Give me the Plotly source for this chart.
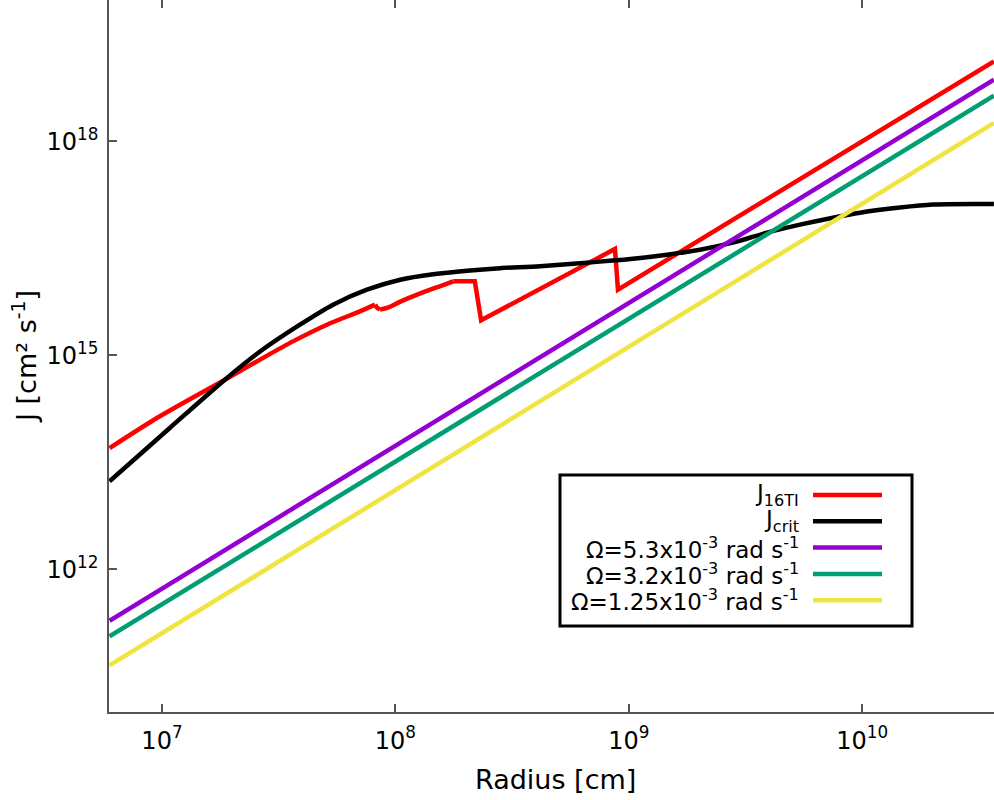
import plotly.graph_objects as go

# ---- data -------------------------------------------------------------
# J_16TI profile (specific angular momentum) vs radius
r_16ti = [5.96e6, 9.79e6, 1.86e7, 2.63e7, 3.64e7, 5.09e7, 7.05e7, 8.18e7,
          8.34e7, 8.59e7, 9.29e7, 1.05e8, 1.24e8, 1.45e8, 1.55e8, 1.77e8,
          2.19e8, 2.33e8, 8.73e8, 8.99e8, 3.67e10]
j_16ti = [5.00e13, 1.40e14, 4.56e14, 8.71e14, 1.57e15, 2.69e15, 4.14e15, 5.14e15,
          4.67e15, 4.38e15, 4.67e15, 5.66e15, 7.10e15, 8.61e15, 9.27e15, 1.09e16,
          1.09e16, 3.10e15, 3.10e16, 8.34e15, 1.32e19]
# index ranges of the J_16TI profile: smooth parts vs. straight/jump parts
seg_16ti = [(0, 8, "spline"), (7, 10, "linear"), (9, 16, "spline"), (15, 21, "linear")]

# critical angular momentum J_crit
r_crit = [5.96e6, 1.08e7, 1.86e7, 2.63e7, 3.90e7, 5.41e7, 7.55e7, 1.05e8,
          1.45e8, 2.03e8, 2.81e8, 4.17e8, 7.53e8, 1.12e9, 1.46e9, 2.02e9,
          2.79e9, 3.91e9, 5.42e9, 7.50e9, 9.79e9, 1.45e10, 2.01e10, 3.67e10]
j_crit = [1.71e13, 9.59e13, 4.56e14, 1.13e15, 2.69e15, 5.14e15, 8.34e15, 1.15e16,
          1.37e16, 1.54e16, 1.67e16, 1.78e16, 2.06e16, 2.32e16, 2.58e16, 3.03e16,
          3.80e16, 5.25e16, 6.79e16, 8.51e16, 1.00e17, 1.18e17, 1.30e17, 1.32e17]

# rigid rotation lines J = Omega r^2 (end points)
r_omega = [5.96e6, 3.67e10]
j_omega_53 = [1.905e11, 7.33e18]
j_omega_32 = [1.148e11, 4.38e18]
j_omega_125 = [4.51e10, 1.81e18]

x_tickvals = [1e7, 1e8, 1e9, 1e10]
x_ticktext = ["10<sup>7</sup>", "10<sup>8</sup>", "10<sup>9</sup>", "10<sup>10</sup>"]
y_tickvals = [1e12, 1e15, 1e18]
y_ticktext = ["10<sup>12</sup>", "10<sup>15</sup>", "10<sup>18</sup>"]

names = ["J<sub>16TI</sub>", "J<sub>crit</sub>",
         "Ω=5.3x10<sup>-3</sup> rad s<sup>-1</sup>",
         "Ω=3.2x10<sup>-3</sup> rad s<sup>-1</sup>",
         "Ω=1.25x10<sup>-3</sup> rad s<sup>-1</sup>"]
colors = ["#ff0000", "#000000", "#9400d3", "#009e73", "#f0e442"]

# ---- layout constants (pixels) ----------------------------------------
W, H = 994, 800
ML, MR, MT, MB = 109, 0, 0, 88
PW, PH = W - ML - MR, H - MT - MB
FONT = "DejaVu Sans"
AXC = "#555555"
LW = 4.5


def px(xp):
    return (xp - ML) / PW


def py(yp):
    return (MT + PH - yp) / PH


fig = go.Figure()

# J_16TI, drawn piecewise so the jumps stay sharp
for a, b, shape in seg_16ti:
    fig.add_trace(go.Scatter(
        x=r_16ti[a:b], y=j_16ti[a:b], mode="lines", name=names[0],
        line=dict(color=colors[0], width=LW, shape=shape, smoothing=0.8),
        hoverinfo="skip", showlegend=False))

# J_crit
fig.add_trace(go.Scatter(
    x=r_crit, y=j_crit, mode="lines", name=names[1],
    line=dict(color=colors[1], width=LW, shape="spline", smoothing=0.8),
    hoverinfo="skip", showlegend=False))

# rigid rotation lines (last one on the top-axis overlay so it is drawn above)
omega_sets = [j_omega_53, j_omega_32, j_omega_125]
for i, ys in enumerate(omega_sets):
    fig.add_trace(go.Scatter(
        x=r_omega, y=ys, mode="lines", name=names[2 + i],
        line=dict(color=colors[2 + i], width=LW),
        xaxis="x2" if i == len(omega_sets) - 1 else "x",
        hoverinfo="skip", showlegend=False))

fig.update_layout(
    width=W, height=H,
    margin=dict(l=ML, r=MR, t=MT, b=MB, pad=0),
    paper_bgcolor="white", plot_bgcolor="white",
    font=dict(family=FONT, color="black"),
    xaxis=dict(type="log", range=[6.773, 10.565],
               tickvals=x_tickvals, ticktext=x_ticktext,
               ticks="inside", ticklen=8, tickwidth=1.5, tickcolor=AXC,
               showline=True, linecolor=AXC, linewidth=1.5, mirror=False,
               showgrid=False, zeroline=False,
               tickfont=dict(family=FONT, size=24, color="black"),
               ticklabelstandoff=6),
    xaxis2=dict(type="log", overlaying="x", matches="x", side="top", anchor="y",
                tickvals=x_tickvals, ticks="inside", ticklen=8, tickwidth=1.5,
                tickcolor=AXC, showticklabels=False, showline=False,
                showgrid=False, zeroline=False),
    yaxis=dict(type="log", range=[10.0, 10.0 + PH / 71.33],
               tickvals=y_tickvals, ticktext=y_ticktext,
               ticks="inside", ticklen=8, tickwidth=1.5, tickcolor=AXC,
               showline=True, linecolor=AXC, linewidth=1.5, mirror=False,
               showgrid=False, zeroline=False,
               tickfont=dict(family=FONT, size=24, color="black"),
               ticklabelstandoff=4),
)

annotations = [
    dict(text="Radius [cm]", xref="paper", yref="paper", x=px(555), y=py(780),
         xanchor="center", yanchor="middle", showarrow=False,
         font=dict(family=FONT, size=27, color="black")),
    dict(text="J [cm² s<sup>-1</sup>]", xref="paper", yref="paper",
         x=px(25), y=py(357), xanchor="center", yanchor="middle",
         textangle=-90, showarrow=False,
         font=dict(family=FONT, size=27, color="black")),
]

# legend: labels on the left, line samples on the right, framed box
shapes = [dict(type="rect", xref="paper", yref="paper",
               x0=px(560), x1=px(912), y0=py(475), y1=py(626),
               line=dict(color="black", width=3), fillcolor="white", layer="above")]
row0, step = 495, 26.3
for k, (nm, c) in enumerate(zip(names, colors)):
    yrow = row0 + k * step
    shapes.append(dict(type="line", xref="paper", yref="paper",
                       x0=px(813), x1=px(882), y0=py(yrow), y1=py(yrow),
                       line=dict(color=c, width=LW), layer="above"))
    annotations.append(dict(text=nm, xref="paper", yref="paper",
                            x=px(801), y=py(yrow), xanchor="right", yanchor="middle",
                            showarrow=False,
                            font=dict(family=FONT, size=23, color="black")))

fig.update_layout(shapes=shapes, annotations=annotations)

fig.write_html("out.html", config=dict(displayModeBar=False))
